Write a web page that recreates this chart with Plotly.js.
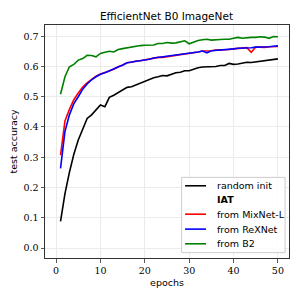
<!DOCTYPE html>
<html>
<head>
<meta charset="utf-8">
<script src="https://cdn.plot.ly/plotly-3.0.1.min.js"></script>
<style>html,body{margin:0;padding:0;background:#fff;}#chart{width:300px;height:300px;}</style>
</head>
<body>
<div id="chart"></div>
<script>
const epochs = [1,2,3,4,5,6,7,8,9,10,11,12,13,14,15,16,17,18,19,20,21,22,23,24,25,26,27,28,29,30,31,32,33,34,35,36,37,38,39,40,41,42,43,44,45,46,47,48,49,50];

const randomInit = [0.088,0.180,0.250,0.310,0.357,0.390,0.428,0.440,0.455,0.473,0.467,0.498,0.505,0.513,0.522,0.531,0.533,0.539,0.546,0.552,0.558,0.563,0.566,0.570,0.569,0.575,0.579,0.581,0.586,0.586,0.591,0.596,0.598,0.598,0.600,0.600,0.603,0.603,0.610,0.607,0.608,0.612,0.614,0.613,0.615,0.619,0.621,0.621,0.623,0.625];

const fromMixNetL = [0.307,0.420,0.458,0.490,0.512,0.532,0.546,0.558,0.568,0.575,0.579,0.585,0.591,0.599,0.604,0.612,0.614,0.618,0.619,0.622,0.624,0.629,0.630,0.630,0.632,0.635,0.636,0.640,0.642,0.643,0.646,0.648,0.651,0.651,0.652,0.654,0.654,0.654,0.656,0.658,0.660,0.660,0.662,0.647,0.664,0.664,0.663,0.665,0.666,0.666];

const fromReXNet = [0.263,0.385,0.440,0.477,0.500,0.525,0.542,0.556,0.566,0.574,0.579,0.585,0.591,0.598,0.605,0.612,0.614,0.617,0.619,0.622,0.624,0.628,0.630,0.631,0.632,0.635,0.636,0.639,0.642,0.643,0.646,0.648,0.651,0.645,0.652,0.653,0.654,0.654,0.656,0.658,0.660,0.660,0.662,0.662,0.664,0.664,0.664,0.665,0.667,0.668];

const fromB2 = [0.508,0.566,0.599,0.607,0.621,0.626,0.637,0.636,0.632,0.643,0.647,0.650,0.648,0.656,0.659,0.662,0.663,0.666,0.669,0.670,0.671,0.671,0.676,0.676,0.679,0.677,0.678,0.681,0.685,0.675,0.680,0.686,0.688,0.690,0.687,0.689,0.689,0.690,0.690,0.693,0.696,0.693,0.695,0.696,0.696,0.698,0.697,0.693,0.699,0.698];

const seriesNames = ["random init", "<b>IAT</b>", "from MixNet-L", "from ReXNet", "from B2"];
const seriesColors = ["#000000", null, "#ff0000", "#0000ff", "#008000"];
const titleText = "EfficientNet B0 ImageNet";
const xTicks = [0,10,20,30,40,50];
const yTicks = [0.0,0.1,0.2,0.3,0.4,0.5,0.6,0.7];

const lw = 1.6;
const seriesData = [randomInit, null, fromMixNetL, fromReXNet, fromB2];
const traces = [];
seriesData.forEach((d, i) => {
  if (!d) return;
  traces.push({x: epochs, y: d, name: seriesNames[i], mode: "lines", line: {color: seriesColors[i], width: lw}, showlegend: false});
});

const serif = "DejaVu Serif, Liberation Serif, serif";
const sans = "DejaVu Sans, sans-serif";

// manual legend (matplotlib-style) in paper coordinates
const legX0 = 0.560, legX1 = 0.984, legY0 = 0.023, legY1 = 0.346;
const rowY = [0.310, 0.249, 0.188, 0.124, 0.061];
const shapes = [{type: "rect", xref: "paper", yref: "paper", x0: legX0, x1: legX1, y0: legY0, y1: legY1,
  line: {color: "#cccccc", width: 1}, fillcolor: "rgba(255,255,255,0.85)", layer: "above"}];
const annotations = [];
seriesNames.forEach((n, i) => {
  if (seriesColors[i]) {
    shapes.push({type: "line", xref: "paper", yref: "paper", x0: 0.574, x1: 0.660, y0: rowY[i], y1: rowY[i],
      line: {color: seriesColors[i], width: lw}, layer: "above"});
  }
  annotations.push({xref: "paper", yref: "paper", x: 0.697, y: rowY[i], xanchor: "left", yanchor: "middle",
    text: n, showarrow: false, font: {family: sans, size: 9.5, color: "#000"}});
});

const layout = {
  width: 300, height: 300,
  margin: {l: 45, r: 11, t: 25, b: 42},
  paper_bgcolor: "#ffffff",
  plot_bgcolor: "#ffffff",
  showlegend: false,
  title: {text: titleText, font: {family: sans, size: 10.5, color: "#000"}, x: 0.555, xanchor: "center", y: 0.945, yanchor: "middle"},
  xaxis: {
    range: [-2.5, 52.5],
    tickvals: xTicks,
    ticktext: xTicks.map(String),
    ticks: "outside", ticklen: 3.5, tickwidth: 0.8, tickcolor: "#333",
    showgrid: true, gridcolor: "#ebebeb", gridwidth: 1,
    zeroline: false,
    showline: true, linecolor: "#333", linewidth: 1, mirror: true,
    tickfont: {family: serif, size: 9.5, color: "#000"},
    title: {text: "epochs", font: {family: sans, size: 9.5, color: "#000"}, standoff: 4}
  },
  yaxis: {
    range: [-0.033, 0.737],
    tickvals: yTicks,
    ticktext: yTicks.map(v => v.toFixed(1)),
    ticks: "outside", ticklen: 3.5, tickwidth: 0.8, tickcolor: "#333",
    showgrid: true, gridcolor: "#ebebeb", gridwidth: 1,
    zeroline: false,
    showline: true, linecolor: "#333", linewidth: 1, mirror: true,
    tickfont: {family: serif, size: 9.5, color: "#000"},
    title: {text: "test accuracy", font: {family: sans, size: 9.5, color: "#000"}, standoff: 4}
  },
  shapes: shapes,
  annotations: annotations
};

Plotly.newPlot("chart", traces, layout, {staticPlot: true, displayModeBar: false});
</script>
</body>
</html>
